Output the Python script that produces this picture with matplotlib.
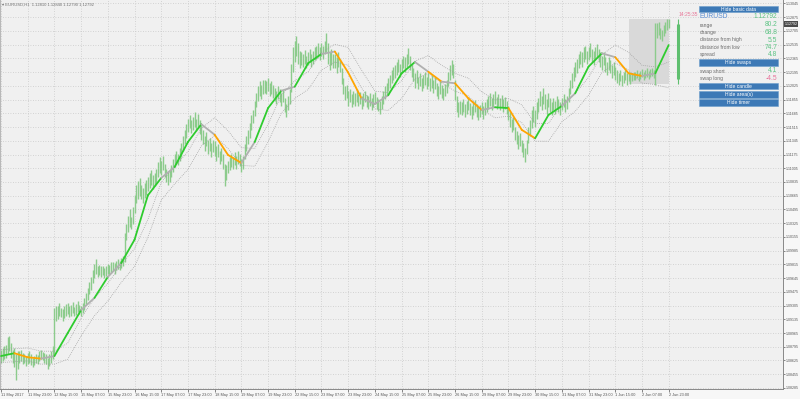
import matplotlib
matplotlib.use("Agg")
import matplotlib.pyplot as plt
import matplotlib.transforms as mtransforms
from matplotlib.patches import Rectangle

plt.rcParams['font.family'] = ['Liberation Sans', 'DejaVu Sans']

# all prices below are in pips above this base
BASE = 1.08

# hourly bars, EURUSD H1 (11 May 07:00 .. 2 Jun 23:00)
low_pips = [
    60, 62, 64, 66, 70, 74, 66, 60, 55, 38, 52, 60, 62, 58, 60, 56,
    58, 60, 57, 55, 57, 60, 58, 62, 64, 63, 60, 58, 52, 56, 60, 64,
    70, 112, 114, 118, 116, 112, 115, 118, 120, 116, 118, 121, 117, 119, 122, 120,
    118, 121, 125, 132, 138, 145, 150, 158, 165, 170, 166, 168, 166, 168, 165, 167,
    170, 168, 171, 173, 170, 174, 176, 174, 177, 179, 185, 212, 222, 228, 225, 232,
    245, 258, 262, 266, 262, 258, 264, 268, 272, 276, 280, 275, 278, 282, 290, 295,
    292, 298, 290, 284, 280, 283, 290, 296, 302, 306, 304, 310, 315, 322, 330, 338,
    345, 350, 344, 348, 352, 346, 350, 343, 336, 330, 322, 328, 318, 322, 315, 320,
    316, 310, 314, 306, 310, 300, 278, 286, 294, 298, 302, 300, 304, 300, 306, 303,
    296, 300, 312, 322, 330, 338, 348, 356, 365, 376, 384, 390, 386, 392, 394, 392,
    396, 390, 393, 388, 384, 380, 386, 382, 378, 382, 370, 364, 372, 380, 395, 420,
    432, 440, 430, 425, 428, 426, 430, 424, 428, 432, 426, 430, 434, 436, 438, 434,
    440, 436, 442, 445, 430, 422, 428, 425, 424, 418, 426, 420, 405, 392, 385, 388,
    378, 382, 376, 380, 378, 383, 377, 380, 374, 378, 382, 376, 374, 378, 372, 376,
    380, 374, 371, 368, 374, 380, 386, 390, 396, 400, 406, 410, 412, 416, 420, 414,
    418, 424, 420, 426, 430, 422, 414, 408, 400, 406, 398, 402, 396, 400, 404, 398,
    402, 396, 400, 394, 398, 390, 386, 392, 388, 385, 390, 394, 402, 410, 416, 412,
    385, 370, 364, 368, 366, 370, 364, 368, 372, 366, 362, 366, 370, 364, 360, 364,
    368, 362, 366, 370, 374, 378, 372, 376, 380, 374, 378, 372, 376, 370, 374, 368,
    360, 352, 345, 348, 336, 330, 324, 328, 320, 314, 308, 318, 332, 340, 350, 358,
    352, 362, 370, 378, 372, 380, 374, 368, 376, 370, 366, 372, 368, 374, 370, 366,
    372, 376, 370, 374, 382, 392, 400, 408, 414, 418, 424, 430, 426, 432, 436, 430,
    434, 438, 432, 428, 434, 438, 432, 426, 422, 428, 420, 416, 422, 418, 412, 416,
    410, 406, 404, 408, 402, 406, 410, 404, 408, 405, 408, 410, 410, 412, 409, 411,
    413, 410, 412, 414, 411, 413, 415, 412, 404, 462, 466, 460, 458, 464, 468, 472,
    474,
]
high_pips = [
    75, 78, 80, 82, 92, 93, 84, 76, 78, 70, 74, 74, 76, 72, 70, 68,
    72, 74, 70, 66, 68, 70, 69, 74, 76, 73, 72, 70, 66, 70, 74, 80,
    128, 130, 130, 134, 128, 126, 130, 132, 134, 130, 131, 135, 129, 133, 136, 131,
    130, 134, 140, 146, 152, 160, 166, 175, 182, 188, 180, 181, 179, 180, 177, 180,
    182, 181, 184, 185, 183, 186, 188, 186, 190, 192, 220, 232, 242, 250, 240, 252,
    268, 280, 285, 288, 280, 276, 282, 286, 290, 294, 298, 292, 295, 300, 308, 314,
    310, 316, 306, 300, 296, 298, 305, 312, 318, 322, 318, 325, 332, 340, 348, 355,
    362, 366, 360, 364, 370, 362, 368, 360, 354, 348, 340, 345, 336, 338, 332, 336,
    334, 328, 330, 322, 326, 318, 306, 304, 310, 314, 318, 315, 320, 316, 322, 318,
    312, 316, 330, 340, 348, 356, 366, 372, 384, 394, 402, 408, 404, 410, 410, 408,
    412, 406, 408, 404, 400, 396, 402, 398, 394, 397, 388, 380, 390, 398, 430, 450,
    458, 464, 455, 446, 444, 442, 447, 440, 445, 448, 442, 446, 450, 452, 455, 450,
    456, 452, 458, 468, 455, 444, 448, 442, 442, 438, 444, 436, 425, 412, 402, 404,
    396, 398, 392, 396, 394, 398, 392, 395, 390, 394, 396, 391, 390, 394, 388, 392,
    395, 389, 386, 384, 390, 396, 402, 406, 412, 416, 422, 426, 428, 432, 436, 430,
    436, 440, 438, 442, 449, 440, 430, 424, 418, 422, 414, 418, 412, 416, 420, 414,
    418, 412, 416, 410, 414, 406, 402, 408, 404, 400, 405, 410, 420, 428, 434, 430,
    410, 390, 382, 384, 382, 386, 380, 384, 388, 381, 378, 382, 385, 380, 376, 379,
    383, 378, 382, 386, 390, 394, 388, 392, 396, 389, 393, 388, 391, 386, 389, 384,
    378, 370, 362, 364, 352, 346, 342, 344, 336, 332, 326, 336, 352, 360, 372, 378,
    372, 382, 388, 396, 390, 400, 392, 386, 394, 388, 382, 388, 384, 390, 386, 382,
    388, 392, 386, 390, 400, 410, 418, 426, 432, 436, 442, 446, 444, 450, 452, 446,
    450, 456, 448, 446, 450, 454, 448, 444, 440, 444, 438, 432, 438, 434, 428, 432,
    426, 422, 418, 422, 416, 420, 422, 418, 420, 417, 418, 420, 420, 422, 419, 421,
    423, 420, 422, 424, 421, 423, 425, 422, 480, 480, 482, 474, 472, 478, 482, 485,
    485,
]

# smoothed trend line and its envelope, one value every 8 bars
ma_step = 8
ma_pips = [68, 71.5, 66.5, 64.8, 68, 96.6, 125, 140, 166, 183, 212, 267, 288.5,
           302, 333, 355, 342, 317, 307, 333, 375, 396.5, 401.5, 430.5, 442, 445,
           419, 387, 380, 391, 418, 432, 420, 407.7, 405.7, 387, 372.7, 376, 375,
           348, 337.6, 366.5, 377.6, 393.3, 426.3, 442.8, 438, 418, 414.7, 418, 453]
upper_pips = [76, 77, 78, 74, 74, 84, 115, 140, 158, 181, 201, 237, 283, 303, 321,
              350, 363, 347, 326, 325, 355, 391, 409, 420, 444, 454, 450, 422, 396,
              394, 409, 433, 440, 428, 418, 412, 395, 385, 387, 379, 356, 356, 380,
              393, 413, 441, 453, 444, 428, 426, 432]
lower_pips = [60, 61, 62, 58, 58, 64, 93, 118, 136, 159, 179, 215, 261, 281, 299,
              328, 341, 325, 304, 303, 333, 369, 387, 398, 422, 432, 428, 400, 374,
              372, 387, 411, 418, 406, 396, 390, 373, 363, 365, 357, 334, 334, 358,
              371, 391, 419, 431, 422, 406, 404, 400]
# trend state per segment: g = up, o = down, a = flat
ma_state = ["g", "o", "o", "a", "g", "g", "a", "g", "a", "g", "g", "g", "a", "g",
            "g", "a", "o", "o", "a", "g", "g", "a", "g", "g", "a", "o", "o", "a",
            "a", "g", "g", "a", "o", "a", "o", "o", "a", "g", "o", "o", "g", "g",
            "a", "g", "g", "a", "o", "o", "a", "g"]

x_labels = ["11 May 2017", "11 May 23:00", "12 May 15:00", "15 May 07:00",
            "15 May 23:00", "16 May 15:00", "17 May 07:00", "17 May 23:00",
            "18 May 15:00", "19 May 07:00", "19 May 23:00", "22 May 15:00",
            "23 May 07:00", "23 May 23:00", "24 May 15:00", "25 May 07:00",
            "25 May 23:00", "26 May 15:00", "29 May 07:00", "29 May 23:00",
            "30 May 15:00", "31 May 07:00", "31 May 23:00", "1 Jun 15:00",
            "2 Jun 07:00", "2 Jun 23:00"]
y_ticks = [1.13045, 1.12875, 1.12705, 1.12535, 1.12365, 1.12195, 1.12025,
           1.11855, 1.11685, 1.11515, 1.11345, 1.11175, 1.11005, 1.10835,
           1.10665, 1.10495, 1.10325, 1.10155, 1.09985, 1.09815, 1.09645,
           1.09475, 1.09305, 1.09135, 1.08965, 1.08795, 1.08625, 1.08455, 1.08285]

last_ohlc = ["1.12810", "1.12840", "1.12790", "1.12792"]
bid = 1.12792
day_start = 377          # first bar of 2 Jun
day_low, day_high = 1.12045, 1.12847
day_open = 1.12104
timer_text = "14:25:35"
symbol = "EURUSD"
info_labels = ["range", "change", "distance from high", "distance from low", "spread"]
info_values = [80.2, 68.8, 5.5, 74.7, 4.8]
swap_labels = ["swap short", "swap long"]
swap_values = [4.1, -4.5]


def to_price(p):
    return [BASE + v / 10000.0 for v in p]


def main():
    lows = to_price(low_pips)
    highs = to_price(high_pips)
    ma = to_price(ma_pips)
    upper = to_price(upper_pips)
    lower = to_price(lower_pips)
    idx = list(range(len(lows)))
    ma_x = [k * ma_step for k in range(len(ma))]

    fig = plt.figure(figsize=(8, 3.99), dpi=100)
    fig.patch.set_facecolor('#f7f7f7')
    ax = fig.add_axes([0, 10 / 399, 783 / 800, 389 / 399])
    ax.set_facecolor('#f0f0f0')
    ax.set_xlim(-0.6, 468.5)
    ax.set_ylim(1.08272, 1.13088)

    # grid
    ax.set_yticks(y_ticks)
    ax.set_yticklabels(["%.5f" % t for t in y_ticks])
    ax.set_xticks([k * 16 for k in range(len(x_labels))])
    ax.set_xticklabels(x_labels, ha='left')
    ax.grid(True, ls=(0, (1, 2)), color='#c9c9c9', lw=0.6)
    ax.set_axisbelow(True)
    ax.yaxis.tick_right()
    ax.tick_params(axis='y', labelsize=2.6, colors='#555555', length=1.5, width=0.5, pad=0.8)
    ax.tick_params(axis='x', labelsize=2.8, colors='#555555', length=2, width=0.5, pad=1.2)
    ax.spines['top'].set_visible(False)
    ax.spines['left'].set_color('#b8b8b8')
    ax.spines['left'].set_linewidth(1.5)
    ax.spines['right'].set_color('#888888')
    ax.spines['bottom'].set_color('#888888')
    ax.spines['right'].set_linewidth(0.7)
    ax.spines['bottom'].set_linewidth(0.7)

    # daily range area
    ax.add_patch(Rectangle((day_start - 0.5, day_low), len(lows) - day_start,
                           day_high - day_low, fc='#d9d9d9', ec='none', zorder=1))

    # bars
    ax.vlines(idx, lows, highs, color='#8ccb8c', lw=1.0, zorder=2)

    # envelope
    ax.plot(ma_x, upper, ls=(0, (1, 1.6)), color='#9a9a9a', lw=0.55, zorder=3)
    ax.plot(ma_x, lower, ls=(0, (1, 1.6)), color='#9a9a9a', lw=0.55, zorder=3)

    # trend line
    cols = {"g": '#2ecc2e', "o": '#ffa500', "a": '#b0b0b0'}
    for k, st in enumerate(ma_state):
        ax.plot(ma_x[k:k + 2], ma[k:k + 2], color=cols[st], lw=1.3,
                solid_capstyle='round', zorder=4)

    # day candle to the right of the chart
    cx = len(lows) + 4.6
    ax.vlines([cx], [day_low], [day_high], color='#5fbf6f', lw=0.8, zorder=4)
    ax.vlines([cx], [day_open], [bid], color='#5fbf6f', lw=2.2, zorder=4)

    # current price label
    tr = mtransforms.blended_transform_factory(ax.transAxes, ax.transData)
    ax.text(1.002, bid, "%.5f" % bid, transform=tr, fontsize=2.6, color='white',
            va='center', ha='left',
            bbox=dict(boxstyle='square,pad=0.2', fc='#4a4a4a', ec='none'))

    # overlay in pixel space for header, timer and info panel
    ov = fig.add_axes([0, 0, 1, 1])
    ov.set_xlim(0, 800)
    ov.set_ylim(399, 0)
    ov.axis('off')
    ov.patch.set_alpha(0)

    ov.text(2, 4.5, "\u25be " + symbol + ",H1  " + " ".join(last_ohlc),
            fontsize=3, color='#707070', va='center', ha='left')
    ov.text(679, 15, timer_text, fontsize=3.6, color='#e8789a', va='center', ha='left')

    def button(y0, label):
        ov.add_patch(Rectangle((699, y0), 79, 6.6, fc='#3d79b6', ec='#6c9dcc', lw=0.4))
        ov.text(738.5, y0 + 3.4, label, fontsize=3.6, color='white', va='center', ha='center')

    button(5.7, "Hide basic data")
    ov.text(699.5, 16.8, symbol, fontsize=4.9, color='#5b8fd4', va='center', ha='left')
    ov.text(777.5, 16.8, "%.5f" % bid, fontsize=4.8, color='#5cc383', va='center', ha='right')
    info_y = [25, 32.4, 40, 47.2, 54.6]
    for lab, val, y in zip(info_labels, info_values, info_y):
        ov.text(699.5, y, lab, fontsize=3.6, color='#6a6a6a', va='center', ha='left')
        ov.text(777.5, y, "%.1f" % val, fontsize=4.8, color='#5cc383', va='center', ha='right')
    button(59.3, "Hide swaps")
    for lab, val, y in zip(swap_labels, swap_values, [71, 78.6]):
        ov.text(699.5, y, lab, fontsize=3.6, color='#6a6a6a', va='center', ha='left')
        c = '#5cc383' if val >= 0 else '#e8729a'
        ov.text(777.5, y, "%.1f" % val, fontsize=4.8, color=c, va='center', ha='right')
    button(82.7, "Hide candle")
    button(91.0, "Hide area(s)")
    button(99.3, "Hide timer")

    fig.savefig("out.png", dpi=100, facecolor=fig.get_facecolor())


if __name__ == "__main__":
    main()
